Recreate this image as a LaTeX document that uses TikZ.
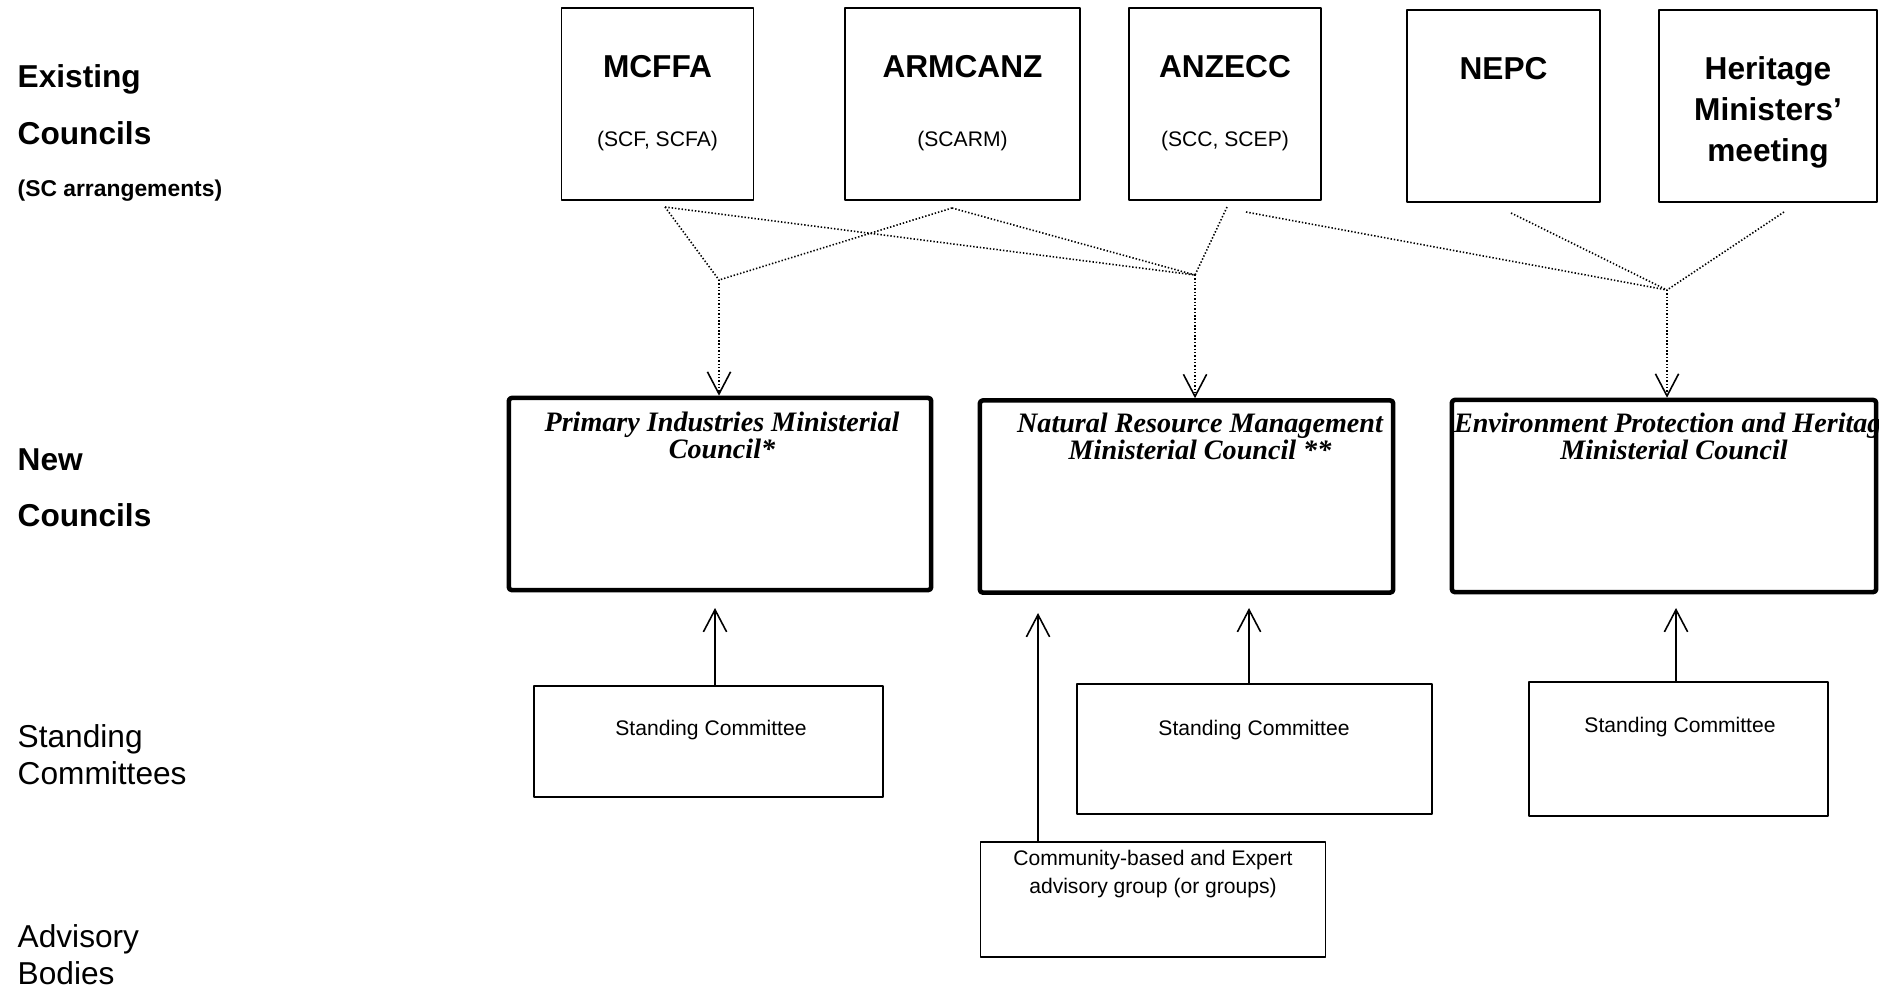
\documentclass[tikz,border=0pt]{standalone}
\usepackage{fontspec}
\setmainfont{Liberation Serif}
\setsansfont{Liberation Sans}
\usetikzlibrary{arrows.meta}
\begin{document}
\begin{tikzpicture}[x=0.01cm, y=-0.01cm, line join=round, font=\sffamily,
		vhead/.style={-{Straight Barb[length=6.3pt, width=6.6pt, line width=0.45pt]}},
		oldbox/.style={draw, line width=0.5pt, minimum width=1.92cm, minimum height=1.92cm, inner sep=0pt},
		newbox/.style={draw, line width=1.3pt, rounded corners=0.8pt, minimum height=1.92cm, inner sep=0pt},
		scbox/.style={draw, line width=0.45pt, inner sep=0pt},
		bigtxt/.style={font=\sffamily\bfseries\fontsize{9}{11.6}\selectfont, inner sep=0pt},
		subtxt/.style={font=\sffamily\fontsize{6}{7}\selectfont, inner sep=0pt},
		rowtxt/.style={font=\sffamily\fontsize{9}{10.5}\selectfont, inner sep=0pt, anchor=base west},
		ttl/.style={font=\rmfamily\bfseries\itshape\fontsize{8}{7.7}\selectfont, align=center, inner sep=0pt, anchor=north},
		dotline/.style={line width=0.45pt, dash pattern=on 0.4pt off 0.55pt}]
			\useasboundingbox (0,0) rectangle (1888,987);
			\node[rowtxt, font=\sffamily\bfseries\fontsize{9}{10.5}\selectfont] (lexist) at (17,87) {Existing};
			\node[rowtxt, font=\sffamily\bfseries\fontsize{9}{10.5}\selectfont] (lcouncil) at (17,144) {Councils};
			\node[rowtxt, font=\sffamily\bfseries\fontsize{6.5}{8}\selectfont] (lsc) at (17,196) {(SC arrangements)};
			\node[rowtxt, font=\sffamily\bfseries\fontsize{9}{10.5}\selectfont] (lnew) at (17,470) {New};
			\node[rowtxt, font=\sffamily\bfseries\fontsize{9}{10.5}\selectfont] (lnewc) at (17,526) {Councils};
			\node[rowtxt] (lstand) at (17,747) {Standing};
			\node[rowtxt] (lcomm) at (17,784) {Committees};
			\node[rowtxt] (ladv) at (17,947) {Advisory};
			\node[rowtxt] (lbod) at (17,984) {Bodies};
			
			\node[oldbox] (mcffa) at (657.5,104) {};
			\node[oldbox, minimum width=2.35cm] (armcanz) at (962.5,104) {};
			\node[oldbox] (anzecc) at (1225,104) {};
			\node[oldbox, minimum width=1.93cm] (nepc) at (1503.5,106) {};
			\node[oldbox, minimum width=2.18cm] (herit) at (1768,106) {};
			\node[bigtxt, anchor=base] (mcffaname) at (657.5,77) {MCFFA};
			\node[subtxt, anchor=base] (mcffasub) at (657.5,146) {(SCF, SCFA)};
			\node[bigtxt, anchor=base] (armcanzname) at (962.5,77) {ARMCANZ};
			\node[subtxt, anchor=base] (armcanzsub) at (962.5,146) {(SCARM)};
			\node[bigtxt, anchor=base] (anzeccname) at (1225,77) {ANZECC};
			\node[subtxt, anchor=base] (anzeccsub) at (1225,146) {(SCC, SCEP)};
			\node[bigtxt, anchor=base] (nepcname) at (1503.5,79) {NEPC};
			\node[bigtxt, align=center, anchor=north] (heritname) at (1768,56) {Heritage\\Ministers’\\meeting};
			
			\node[newbox, minimum width=4.22cm] (pimc) at (720,494) {};
			\node[newbox, minimum width=4.13cm] (nrm) at (1186.5,496.5) {};
			\node[newbox, minimum width=4.24cm] (eph) at (1664,496) {};
			\node[ttl] (pimcname) at (722,411) {Primary Industries Ministerial\\Council*};
			\node[ttl] (nrmname) at (1200,412) {Natural Resource Management\\Ministerial Council **};
			\begin{scope}
				\clip (eph.north west) rectangle (eph.south east);
				\node[ttl] (ephname) at (1674,412) {Environment Protection and Heritage\\Ministerial Council};
			\end{scope}
			
			\node[scbox, minimum width=3.49cm, minimum height=1.11cm] (sc1) at (708.5,741.5) {};
			\node[scbox, minimum width=3.55cm, minimum height=1.30cm] (sc2) at (1254.5,749) {};
			\node[scbox, minimum width=2.99cm, minimum height=1.34cm] (sc3) at (1678.5,749) {};
			\node[scbox, minimum width=3.45cm, minimum height=1.15cm] (adv) at (1153,899.5) {};
			\node[subtxt, anchor=base] (sc1name) at (711,735) {Standing Committee};
			\node[subtxt, anchor=base] (sc2name) at (1254,735) {Standing Committee};
			\node[subtxt, anchor=base] (sc3name) at (1680,732) {Standing Committee};
			\node[subtxt, align=center, anchor=north, font=\sffamily\fontsize{6}{8}\selectfont] (advname) at (1153,849) {Community-based and Expert\\advisory group (or groups)};
			
			\coordinate (mcA) at (665,207);
			\coordinate (arA) at (952,208);
			\coordinate (anA) at (1227,207);
			\coordinate (anB) at (1246,212);
			\coordinate (neA) at (1511,213);
			\coordinate (heA) at (1784,212);
			\coordinate (jPI) at (719,280);
			\coordinate (jNR) at (1195,275);
			\coordinate (jEP) at (1667,290);
			\foreach \a/\b in {mcA/jPI, arA/jPI, mcA/jNR, arA/jNR, anA/jNR, anB/jEP, neA/jEP, heA/jEP}
				\draw[dotline] (\a) -- (\b);
			\foreach \j/\n in {jPI/pimc, jNR/nrm, jEP/eph}
				\draw[dotline, vhead] (\j) -- (\j |- \n.north);
			
			\coordinate (t1) at (715,608);
			\coordinate (t2) at (1249,608);
			\coordinate (t3) at (1676,608);
			\coordinate (t4) at (1038,613);
			\draw[vhead, line width=0.45pt] (sc1.north -| t1) -- (t1);
			\draw[vhead, line width=0.45pt] (sc2.north -| t2) -- (t2);
			\draw[vhead, line width=0.45pt] (sc3.north -| t3) -- (t3);
			\draw[vhead, line width=0.45pt] (adv.north -| t4) -- (t4);
		\end{tikzpicture}
\end{document}
